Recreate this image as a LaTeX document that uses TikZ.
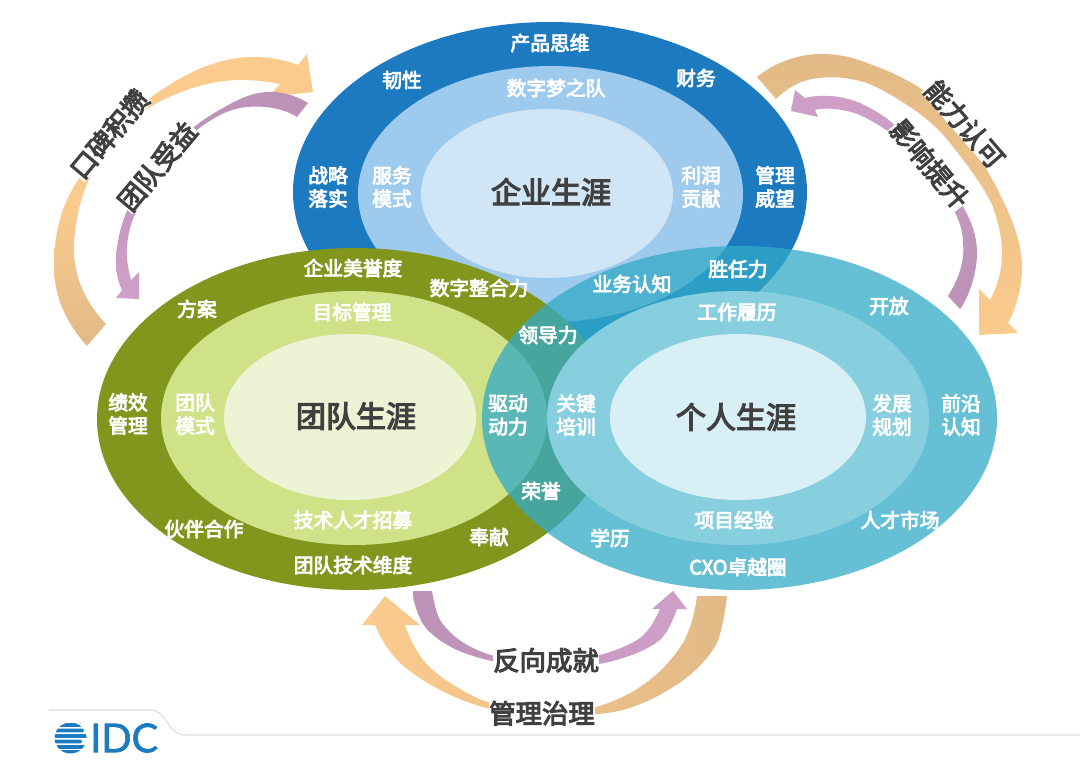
\documentclass[tikz,border=0pt]{standalone}
\usepackage{fontspec}
\setmainfont{Noto Sans CJK SC}[BoldFont={Noto Sans CJK SC},BoldFeatures={FakeBold=4}]
\newfontfamily\logofont{Lato}[FakeBold=1.5]
\definecolor{blueA}{RGB}{28,123,192}
\definecolor{blueB}{RGB}{158,202,238}
\definecolor{blueC}{RGB}{208,229,245}
\definecolor{greenA}{RGB}{130,150,30}
\definecolor{greenB}{RGB}{208,226,135}
\definecolor{greenC}{RGB}{237,244,214}
\definecolor{tealA}{RGB}{50,171,199}
\definecolor{tealB}{RGB}{135,207,223}
\definecolor{tealC}{RGB}{216,239,245}
\definecolor{orangeA}{RGB}{251,203,141}
\definecolor{tanA}{RGB}{226,186,135}
\definecolor{purpleA}{RGB}{207,159,200}
\definecolor{purpleB}{RGB}{188,146,182}
\definecolor{inkA}{RGB}{64,64,64}
\tikzset{
  lab/.style={text=white,font=\bfseries\fontsize{14.8}{17.5}\selectfont,align=center,inner sep=0pt},
  title/.style={text=inkA,font=\bfseries\fontsize{22.5}{27}\selectfont,inner sep=0pt},
  arrowlab/.style={text=inkA,font=\bfseries\fontsize{19.8}{24}\selectfont,inner sep=0pt,fill=white,text height=17pt,text depth=1.5pt},
}
\begin{document}
\begin{tikzpicture}[x=0.75pt,y=-0.75pt]
\useasboundingbox (0,0) rectangle (1080,766);
% footer line
\draw[color=black!14,line width=0.8pt] (49,710) -- (150,710) .. controls (168,710) and (166,735) .. (186,735) -- (1080,735);
% logo
\begin{scope}
\clip (70.5,738) ellipse [x radius=16,y radius=15.5];
\foreach \yy/\xa/\xb in {725/58/82,730.5/52/84,736/54/90,741.5/50/82,747/56/88,752/54/84}{
  \fill[blueA,rounded corners=1pt] (\xa,\yy-1.8) rectangle (\xb,\yy+1.8);
}
\end{scope}
\node[text=blueA,font=\logofont\fontsize{29.8}{31}\selectfont,inner sep=0pt,anchor=west] (idc) at (90,738) {IDC};
% ellipses
\fill[blueA] (550,192) ellipse [x radius=257,y radius=170];
\fill[blueB] (550.5,194) ellipse [x radius=192.5,y radius=128];
\fill[blueC] (547,193.5) ellipse [x radius=126,y radius=84.5];
\fill[greenA] (355,419) ellipse [x radius=258,y radius=171];
\fill[greenB] (354,418) ellipse [x radius=193,y radius=127];
\fill[greenC] (350,417) ellipse [x radius=126,y radius=83];
\fill[tealA,fill opacity=.75] (739.5,418) ellipse [x radius=257.5,y radius=172];
\fill[tealB] (738,418) ellipse [x radius=191,y radius=127];
\fill[tealC] (738,417) ellipse [x radius=128,y radius=83];
% arrows
\shade[top color=orangeA,bottom color=tanA,middle color=orangeA]
  (87,346) .. controls (62,318) and (54,292) .. (54,265) .. controls (54,225) and (66,195) .. (83,173)
  .. controls (105,140) and (130,112) .. (157,93) .. controls (190,70) and (222,57) .. (253,57)
  .. controls (270,57) and (285,60) .. (298,65)
  -- (307,54) -- (313,92) -- (268,97) -- (280,84)
  .. controls (265,81) and (252,80) .. (240,80) .. controls (210,80) and (175,92) .. (150,107)
  .. controls (125,125) and (107,145) .. (97,163) .. controls (82,190) and (74,220) .. (74,250)
  .. controls (74,280) and (88,305) .. (106,324) -- cycle;
\shade[top color=purpleB,bottom color=purpleA]
  (308,103) .. controls (295,95) and (280,91) .. (267,92) .. controls (250,93) and (235,101) .. (223,108)
  .. controls (210,115) and (198,123) .. (187,133) .. controls (165,155) and (150,170) .. (140,187)
  .. controls (127,205) and (116,235) .. (116,262) .. controls (116,272) and (118,282) .. (122,290)
  -- (116,298) -- (139,299) -- (139,272) -- (131,280)
  .. controls (128,268) and (126,258) .. (127,247) .. controls (128,232) and (132,220) .. (137,210)
  .. controls (145,192) and (150,182) .. (157,173) .. controls (170,155) and (183,141) .. (197,130)
  .. controls (212,118) and (228,110) .. (240,108) .. controls (255,105) and (280,106) .. (297,117) -- cycle;
\shade[top color=tanA,bottom color=orangeA]
  (757,77) .. controls (775,62) and (800,54) .. (820,54) .. controls (838,54) and (852,57) .. (867,63)
  .. controls (890,71) and (908,80) .. (923,90) .. controls (950,110) and (968,135) .. (983,163)
  .. controls (1003,198) and (1022,235) .. (1022,267) .. controls (1022,290) and (1015,310) .. (1008,323)
  -- (1018,333) -- (979,335) -- (979,289) -- (990,300)
  .. controls (998,285) and (1002,270) .. (1002,253) .. controls (1002,237) and (998,222) .. (993,207)
  .. controls (983,185) and (965,162) .. (950,143) .. controls (938,128) and (925,117) .. (910,107)
  .. controls (895,97) and (880,88) .. (867,83) .. controls (850,78) and (835,76) .. (820,78)
  .. controls (805,79) and (790,85) .. (776,99) -- cycle;
\shade[top color=purpleA,bottom color=purpleB]
  (960,309) .. controls (970,295) and (977,272) .. (977,253) .. controls (977,228) and (965,208) .. (950,187)
  .. controls (935,165) and (915,143) .. (897,127) .. controls (885,116) and (873,109) .. (860,103)
  .. controls (845,97) and (825,93) .. (805,98)
  -- (795,90) -- (791,111) -- (818,117) -- (815,110)
  .. controls (825,107) and (845,109) .. (860,115) .. controls (875,122) and (888,131) .. (900,140)
  .. controls (920,158) and (935,178) .. (947,197) .. controls (957,215) and (963,228) .. (963,243)
  .. controls (965,262) and (958,280) .. (948,296) -- cycle;
\shade[left color=purpleB,right color=purpleA]
  (432,591) .. controls (434,602) and (436,612) .. (440,620) .. controls (448,632) and (460,642) .. (473,648)
  .. controls (485,654) and (500,658) .. (513,660) .. controls (525,662) and (540,662) .. (553,661)
  .. controls (570,661) and (585,659) .. (600,655) .. controls (615,651) and (630,645) .. (640,638)
  .. controls (650,630) and (655,620) .. (660,609)
  -- (652,609) -- (673,591) -- (687,609) -- (677,609)
  .. controls (672,622) and (668,632) .. (660,640) .. controls (650,648) and (636,654) .. (623,658)
  .. controls (608,663) and (590,666) .. (573,667) .. controls (553,668) and (533,668) .. (513,665)
  .. controls (493,662) and (473,657) .. (457,650) .. controls (440,642) and (424,630) .. (420,618)
  .. controls (416,610) and (413,600) .. (413,591) -- cycle;
\shade[left color=orangeA,right color=tanA]
  (405,625) .. controls (410,640) and (416,650) .. (423,660) .. controls (432,671) and (445,680) .. (457,687)
  .. controls (468,694) and (478,699) .. (490,703) .. controls (505,708) and (522,712) .. (540,713)
  .. controls (560,714) and (578,712) .. (593,708) .. controls (610,703) and (627,696) .. (640,687)
  .. controls (660,674) and (673,658) .. (683,643) .. controls (690,630) and (695,613) .. (697,596)
  -- (727,596)
  .. controls (725,613) and (722,630) .. (717,643) .. controls (708,660) and (690,677) .. (673,687)
  .. controls (656,698) and (640,705) .. (623,710) .. controls (606,714) and (590,715) .. (573,715)
  -- (533,715) .. controls (515,714) and (498,711) .. (483,707) .. controls (468,703) and (454,697) .. (440,690)
  .. controls (423,681) and (408,671) .. (397,660) .. controls (387,649) and (380,637) .. (375,625)
  -- (362,625) -- (385,596) -- (420,625) -- cycle;
% arrow labels
\node[arrowlab,rotate=50] (a1) at (109,134) {口碑积攒};
\node[arrowlab,rotate=50] (a2) at (157,166) {团队受益};
\node[arrowlab,rotate=-49] (a3) at (965,124) {能力认可};
\node[arrowlab,rotate=-50] (a4) at (930,164) {影响提升};
\node[arrowlab] (a5) at (546,660) {反向成就};
\node[arrowlab] (a6) at (542,713) {管理治理};
% titles
\node[title] (t1) at (551,192) {企业生涯};
\node[title] (t2) at (356,416) {团队生涯};
\node[title] (t3) at (736,417) {个人生涯};
% blue labels
\node[lab] (b1) at (550,43) {产品思维};
\node[lab] (b2) at (402,80) {韧性};
\node[lab] (b3) at (696,78) {财务};
\node[lab] (b4) at (556,88) {数字梦之队};
\node[lab] (b5) at (328,187) {战略\\落实};
\node[lab] (b6) at (392,187) {服务\\模式};
\node[lab] (b7) at (701,187) {利润\\贡献};
\node[lab] (b8) at (775,187) {管理\\威望};
% green labels
\node[lab] (g1) at (353,268) {企业美誉度};
\node[lab] (g2) at (479,288) {数字整合力};
\node[lab] (g3) at (197,309) {方案};
\node[lab] (g4) at (352,312) {目标管理};
\node[lab] (g5) at (128,414) {绩效\\管理};
\node[lab] (g6) at (195,414) {团队\\模式};
\node[lab] (g7) at (204,529) {伙伴合作};
\node[lab] (g8) at (353,520) {技术人才招募};
\node[lab] (g9) at (489,537) {奉献};
\node[lab] (g10) at (353,565) {团队技术维度};
% overlap labels
\node[lab] (o1) at (632,284) {业务认知};
\node[lab] (o2) at (738,269) {胜任力};
\node[lab] (o3) at (548,335) {领导力};
\node[lab] (o4) at (508,415) {驱动\\动力};
\node[lab] (o5) at (576,415) {关键\\培训};
\node[lab] (o6) at (541,491) {荣誉};
% teal labels
\node[lab] (p1) at (737,312) {工作履历};
\node[lab] (p2) at (889,306) {开放};
\node[lab] (p3) at (892,415) {发展\\规划};
\node[lab] (p4) at (961,415) {前沿\\认知};
\node[lab] (p5) at (900,520) {人才市场};
\node[lab] (p6) at (734,520) {项目经验};
\node[lab] (p7) at (610,538) {学历};
\node[lab] (p8) at (738,567) {CXO卓越圈};
\end{tikzpicture}
\end{document}
